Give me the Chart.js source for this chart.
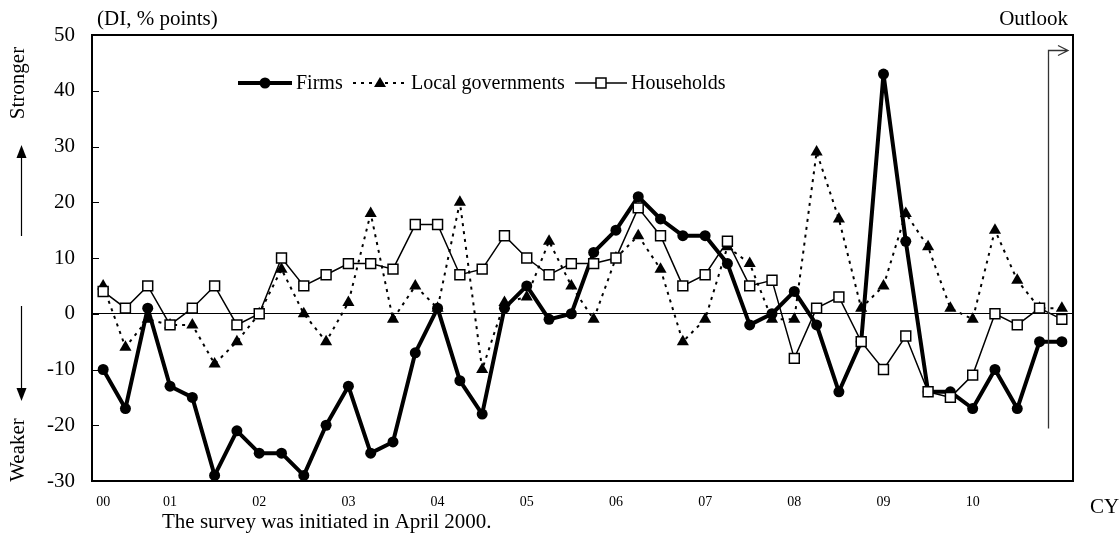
<!DOCTYPE html>
<html>
<head>
<meta charset="utf-8">
<script src="https://cdn.jsdelivr.net/npm/chart.js@4/dist/chart.umd.min.js"></script>
<style>
  html, body { margin: 0; padding: 0; background: #fff; }
  canvas { display: block; }
</style>
</head>
<body>
<canvas id="diChart" width="1119" height="540"></canvas>
<script>
// quarterly survey, starts 2000 Q2, last point (2011 Q1) is the outlook
const quarters = [
  '00Q2', '00Q3', '00Q4',
  '01Q1', '01Q2', '01Q3', '01Q4',
  '02Q1', '02Q2', '02Q3', '02Q4',
  '03Q1', '03Q2', '03Q3', '03Q4',
  '04Q1', '04Q2', '04Q3', '04Q4',
  '05Q1', '05Q2', '05Q3', '05Q4',
  '06Q1', '06Q2', '06Q3', '06Q4',
  '07Q1', '07Q2', '07Q3', '07Q4',
  '08Q1', '08Q2', '08Q3', '08Q4',
  '09Q1', '09Q2', '09Q3', '09Q4',
  '10Q1', '10Q2', '10Q3', '10Q4',
  '11Q1',
];

const yearTicks = {
  '00Q2': '00', '01Q1': '01', '02Q1': '02', '03Q1': '03', '04Q1': '04', '05Q1': '05',
  '06Q1': '06', '07Q1': '07', '08Q1': '08', '09Q1': '09', '10Q1': '10',
};

const firms = [
  -10, -17, 1, -13, -15, -29, -21, -25, -25, -29,
  -20, -13, -25, -23, -7, 1, -12, -18, 1, 5,
  -1, 0, 11, 15, 21, 17, 14, 14, 9, -2,
  0, 4, -2, -14, -5, 43, 13, -14, -14, -17,
  -10, -17, -5, -5,
];

const localGovernments = [
  5, -6, -1, -2, -2, -9, -5, 0, 8, 0,
  -5, 2, 18, -1, 5, 1, 20, -10, 2, 3,
  13, 5, -1, 10, 14, 8, -5, -1, 12, 9,
  -1, -1, 29, 17, 1, 5, 18, 12, 1, -1,
  15, 6, 1, 1,
];

const households = [
  4, 1, 5, -2, 1, 5, -2, 0, 10, 5,
  7, 9, 9, 8, 16, 16, 7, 8, 14, 10,
  7, 9, 9, 10, 19, 14, 5, 7, 13, 5,
  6, -8, 1, 3, -5, -10, -4, -14, -15, -11,
  0, -2, 1, -1,
];

const SERIF = '"Liberation Serif", "Times New Roman", serif';

function arrowHead(ctx, x, y, dir) {
  // filled triangle, dir = -1 up, 1 down
  ctx.beginPath();
  ctx.moveTo(x, y);
  ctx.lineTo(x - 5, y - dir * 13);
  ctx.lineTo(x + 5, y - dir * 13);
  ctx.closePath();
  ctx.fill();
}

const decorations = {
  id: 'decorations',
  afterDatasetsDraw(chart) {
    const { ctx, chartArea: area, scales } = chart;
    const xs = scales.x;
    const ys = scales.y;
    ctx.save();
    ctx.strokeStyle = '#000';
    ctx.fillStyle = '#000';

    // frame top + right
    ctx.lineWidth = 2;
    ctx.beginPath();
    ctx.moveTo(area.left, area.top);
    ctx.lineTo(area.right, area.top);
    ctx.lineTo(area.right, area.bottom);
    ctx.stroke();

    // inner ticks on the left axis
    ctx.lineWidth = 1;
    ys.ticks.forEach((t) => {
      const y = Math.round(ys.getPixelForValue(t.value)) + 0.5;
      ctx.beginPath();
      ctx.moveTo(area.left, y);
      ctx.lineTo(area.left + 7, y);
      ctx.stroke();
    });

    // outlook marker
    const step = xs.getPixelForValue(1) - xs.getPixelForValue(0);
    const ox = Math.round(xs.getPixelForValue(42) + 0.4 * step) + 0.5;
    const oy = Math.round(ys.getPixelForValue(47.3)) + 0.5;
    const tipX = area.right - 5;
    ctx.strokeStyle = '#333';
    ctx.lineWidth = 1.3;
    ctx.beginPath();
    ctx.moveTo(ox, ys.getPixelForValue(-20.6));
    ctx.lineTo(ox, oy);
    ctx.lineTo(tipX, oy);
    ctx.moveTo(tipX - 10, oy - 5);
    ctx.lineTo(tipX, oy);
    ctx.lineTo(tipX - 10, oy + 5);
    ctx.stroke();

    // legend
    ctx.strokeStyle = '#000';
    ctx.font = '20px ' + SERIF;
    ctx.textBaseline = 'middle';
    ctx.textAlign = 'left';
    const ly = 83;

    ctx.lineWidth = 4;
    ctx.beginPath();
    ctx.moveTo(238, ly);
    ctx.lineTo(292, ly);
    ctx.stroke();
    ctx.beginPath();
    ctx.arc(265, ly, 5.5, 0, Math.PI * 2);
    ctx.fill();
    ctx.fillText('Firms', 296, ly + 1);

    ctx.lineWidth = 2;
    ctx.setLineDash([3, 5]);
    ctx.beginPath();
    ctx.moveTo(353, ly);
    ctx.lineTo(408, ly);
    ctx.stroke();
    ctx.setLineDash([]);
    ctx.beginPath();
    ctx.moveTo(380, ly - 6);
    ctx.lineTo(386, ly + 4);
    ctx.lineTo(374, ly + 4);
    ctx.closePath();
    ctx.fill();
    ctx.fillText('Local governments', 411, ly + 1);

    ctx.lineWidth = 1.5;
    ctx.beginPath();
    ctx.moveTo(575, ly);
    ctx.lineTo(627, ly);
    ctx.stroke();
    ctx.fillStyle = '#fff';
    ctx.fillRect(596, ly - 5, 10, 10);
    ctx.strokeRect(596, ly - 5, 10, 10);
    ctx.fillStyle = '#000';
    ctx.fillText('Households', 631, ly + 1);

    // titles and notes
    ctx.font = '21px ' + SERIF;
    ctx.fillText('(DI, % points)', 97, 19);
    ctx.textAlign = 'right';
    ctx.fillText('Outlook', 1068, 19);
    ctx.textAlign = 'left';
    ctx.fillText('CY', 1090, 507);
    ctx.fillText('The survey was initiated in April 2000.', 162, 522);

    // side labels
    ctx.save();
    ctx.translate(18, 83);
    ctx.rotate(-Math.PI / 2);
    ctx.textAlign = 'center';
    ctx.fillText('Stronger', 0, 0);
    ctx.restore();
    ctx.save();
    ctx.translate(18, 450);
    ctx.rotate(-Math.PI / 2);
    ctx.textAlign = 'center';
    ctx.fillText('Weaker', 0, 0);
    ctx.restore();

    ctx.lineWidth = 1.2;
    ctx.beginPath();
    ctx.moveTo(21.5, 236);
    ctx.lineTo(21.5, 152);
    ctx.moveTo(21.5, 306);
    ctx.lineTo(21.5, 392);
    ctx.stroke();
    arrowHead(ctx, 21.5, 145, -1);
    arrowHead(ctx, 21.5, 401, 1);

    ctx.restore();
  },
};

new Chart(document.getElementById('diChart'), {
  type: 'line',
  data: {
    labels: quarters,
    datasets: [
      {
        label: 'Firms',
        data: firms,
        order: 2,
        borderColor: '#000',
        backgroundColor: '#000',
        borderWidth: 4,
        borderJoinStyle: 'round',
        pointStyle: 'circle',
        pointRadius: 5.5,
        pointBackgroundColor: '#000',
        pointBorderWidth: 0,
        tension: 0,
      },
      {
        label: 'Local governments',
        data: localGovernments,
        order: 1,
        borderColor: '#000',
        backgroundColor: '#000',
        borderWidth: 2,
        borderDash: [3, 5],
        pointStyle: 'triangle',
        pointRadius: 7,
        pointBackgroundColor: '#000',
        pointBorderWidth: 0,
        tension: 0,
      },
      {
        label: 'Households',
        data: households,
        order: 0,
        borderColor: '#000',
        backgroundColor: '#fff',
        borderWidth: 1.5,
        pointStyle: 'rect',
        pointRadius: 7,
        pointBackgroundColor: '#fff',
        pointBorderColor: '#000',
        pointBorderWidth: 1.5,
        tension: 0,
      },
    ],
  },
  options: {
    responsive: false,
    animation: false,
    layout: {
      padding: { top: 35, right: 46, bottom: 0, left: 0 },
    },
    plugins: {
      legend: { display: false },
      tooltip: { enabled: false },
    },
    scales: {
      x: {
        type: 'category',
        offset: true,
        afterFit: (scale) => { scale.height = 59; },
        border: { display: true, color: '#000', width: 2 },
        grid: { display: false, drawTicks: false },
        ticks: {
          autoSkip: false,
          maxRotation: 0,
          padding: 13,
          color: '#000',
          font: { family: SERIF, size: 14 },
          callback: (value, index) => yearTicks[quarters[index]] || '',
        },
      },
      y: {
        min: -30,
        max: 50,
        afterFit: (scale) => { scale.width = 92; },
        border: { display: true, color: '#000', width: 2 },
        grid: {
          drawTicks: false,
          lineWidth: 1,
          color: (c) => (c.tick && c.tick.value === 0 ? '#000' : 'rgba(0,0,0,0)'),
        },
        ticks: {
          stepSize: 10,
          padding: 17,
          color: '#000',
          font: { family: SERIF, size: 21 },
        },
      },
    },
  },
  plugins: [decorations],
});
</script>
</body>
</html>
